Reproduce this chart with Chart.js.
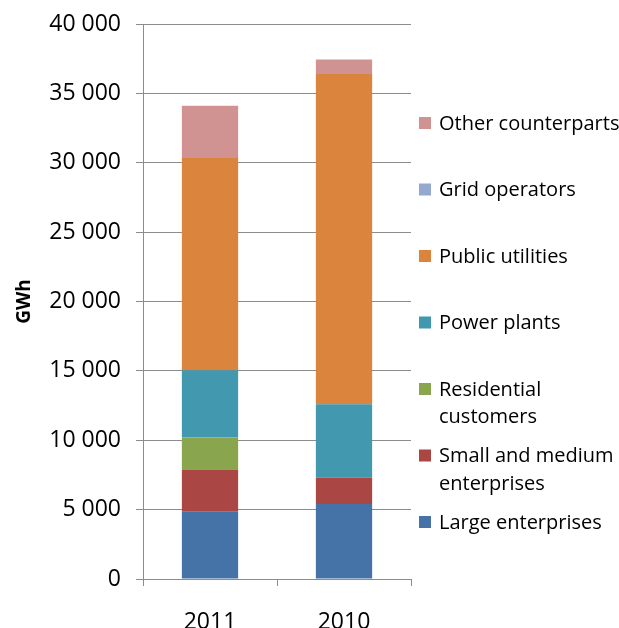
<!DOCTYPE html>
<html>
<head>
<meta charset="utf-8">
<script src="https://cdn.jsdelivr.net/npm/chart.js@4.4.1/dist/chart.umd.min.js"></script>
<style>
	html, body { margin: 0; padding: 0; background: #fff; }
	#wrap { width: 619px; height: 628px; }
</style>
</head>
<body>
<div id="wrap"><canvas id="chart_bar" width="619" height="628"></canvas></div>
<script>
// ----------------------------------------------------------------------
//  data
// ----------------------------------------------------------------------
var years = ['2011', '2010'];
var seriesNames = [
	'Large enterprises',
	['Small and medium', 'enterprises'],
	['Residential', 'customers'],
	'Power plants',
	'Public utilities',
	'Grid operators',
	'Other counterparts'
];
var seriesColors = ['#4572A7', '#AA4643', '#89A54E', '#4198AF', '#DB843D', '#93A9CF', '#D19392'];
var largeEnterprises  = [4850, 5400];
var smallMedium       = [3050, 1900];
var residential       = [2300, 0];
var powerPlants       = [4850, 5300];
var publicUtilities   = [15300, 23800];
var gridOperators     = [0, 0];
var otherCounterparts = [3750, 1050];
var yTicks = [0, 5000, 10000, 15000, 20000, 25000, 30000, 35000, 40000];

var seriesValues = [largeEnterprises, smallMedium, residential, powerPlants,
	publicUtilities, gridOperators, otherCounterparts];

var gridColor = '#8c8c8c';
var fontName = "'Open Sans', 'DejaVu Sans', sans-serif";

// ----------------------------------------------------------------------
//  legend on the right, drawn by hand (top entry = last series)
// ----------------------------------------------------------------------
var sideLegend = {
	id: 'sideLegend',
	afterDraw: function(chart){
		var ctx = chart.ctx;
		var area = chart.chartArea;
		var sets = chart.data.datasets;
		var x = area.right + 8;
		var y0 = 123, step = 66.5;
		ctx.save();
		ctx.font = '20px ' + fontName;
		ctx.textBaseline = 'middle';
		ctx.textAlign = 'left';
		for (var i = 0; i < sets.length; i++) {
			var ds = sets[sets.length - 1 - i];
			var y = y0 + i * step;
			ctx.fillStyle = ds.backgroundColor;
			ctx.fillRect(x, y - 6, 12, 12);
			ctx.fillStyle = '#000';
			var lines = [].concat(ds.label);
			for (var j = 0; j < lines.length; j++) {
				ctx.fillText(lines[j], x + 20, y + 1 + j * 27.5);
			}
		}
		ctx.restore();
	}
};

window.onload = function(){
	var datasets = [];
	for (var i = 0; i < seriesNames.length; i++) {
		datasets.push({
			label: seriesNames[i],
			data: seriesValues[i],
			backgroundColor: seriesColors[i],
			borderWidth: 0,
			categoryPercentage: 1.0,
			barPercentage: 0.42
		});
	}
	var ctx = document.getElementById('chart_bar').getContext('2d');
	new Chart(ctx, {
		type: 'bar',
		data: { labels: years, datasets: datasets },
		plugins: [sideLegend],
		options: {
			responsive: false,
			animation: false,
			layout: { padding: { top: 24, right: 208, left: 0, bottom: 0 } },
			plugins: {
				legend: { display: false },
				tooltip: { enabled: false }
			},
			scales: {
				x: {
					stacked: true,
					offset: true,
					afterFit: function(s){ s.height = 49; s.paddingLeft = 0; s.paddingRight = 0; },
					grid: { drawOnChartArea: false, color: gridColor, tickLength: 7 },
					border: { color: gridColor },
					ticks: { color: '#000', padding: 23, font: { family: fontName, size: 23 } }
				},
				y: {
					stacked: true,
					min: 0,
					max: 40000,
					afterFit: function(s){ s.width = 143; s.paddingTop = 0; s.paddingBottom = 0; },
					afterBuildTicks: function(s){
						s.ticks = yTicks.map(function(v){ return { value: v }; });
					},
					grid: { color: gridColor, tickLength: 7 },
					border: { color: gridColor },
					title: {
						display: true,
						text: 'GWh',
						color: '#000',
						padding: { top: 13, bottom: 4 },
						font: { family: fontName, size: 19, weight: 'bold' }
					},
					ticks: {
						color: '#000',
						padding: 15,
						font: { family: fontName, size: 23 },
						callback: function(v){
							return String(v).replace(/\B(?=(\d{3})+(?!\d))/g, ' ');
						}
					}
				}
			}
		}
	});
};
</script>
</body>
</html>
